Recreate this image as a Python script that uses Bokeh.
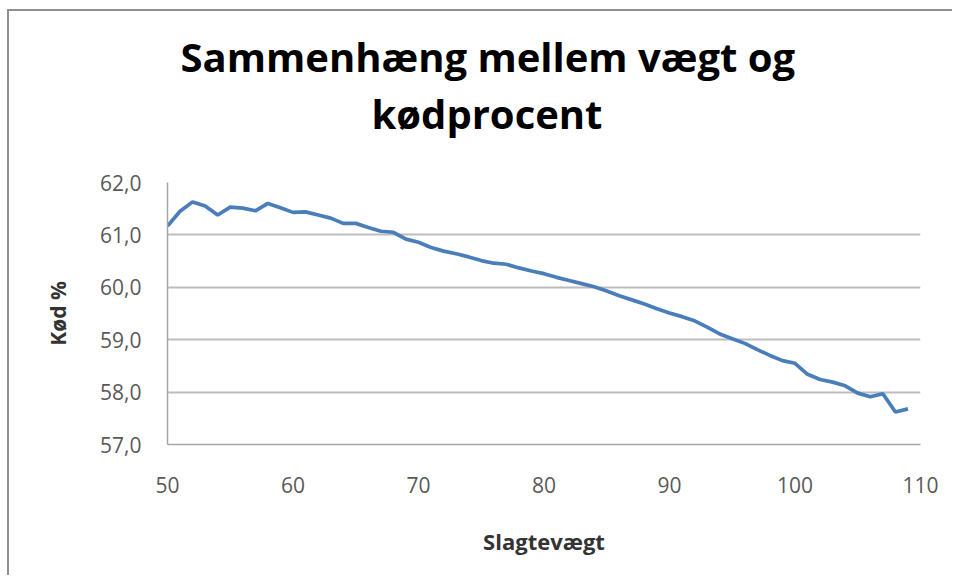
from bokeh.plotting import figure
from bokeh.models import Title, FixedTicker, ColumnDataSource
from bokeh.embed import file_html
from bokeh.resources import INLINE

# ---- data ----
weights = list(range(50, 110))
meat_pct = [61.17, 61.45, 61.63, 61.55, 61.38, 61.53, 61.51, 61.46, 61.60, 61.52,
            61.43, 61.44, 61.38, 61.32, 61.22, 61.22, 61.14, 61.07, 61.05, 60.92,
            60.86, 60.76, 60.69, 60.64, 60.58, 60.51, 60.46, 60.44, 60.37, 60.31,
            60.26, 60.19, 60.13, 60.07, 60.01, 59.93, 59.84, 59.76, 59.68, 59.59,
            59.51, 59.44, 59.36, 59.24, 59.11, 59.02, 58.93, 58.81, 58.70, 58.60,
            58.55, 58.34, 58.24, 58.19, 58.12, 57.98, 57.91, 57.97, 57.62, 57.68]
x_ticks = [50, 60, 70, 80, 90, 100, 110]
y_ticks = [57, 58, 59, 60, 61, 62]
y_tick_labels = ["57,0", "58,0", "59,0", "60,0", "61,0", "62,0"]
title_lines = ["Sammenhæng mellem vægt og", "kødprocent"]
x_title = "Slagtevægt"
y_title = "Kød %"

FONT = "Open Sans"
W, H = 945, 566

p = figure(width=W, height=H, output_backend="svg", toolbar_location=None,
           x_range=(50, 110), y_range=(57, 62), title=None,
           min_border_left=158, min_border_right=34,
           min_border_top=171, min_border_bottom=133)
p.styles = {"border-left": "2px solid #8e8e8e", "border-top": "2px solid #8e8e8e",
            "margin-left": "7px", "margin-top": "9px"}
p.outline_line_color = None
p.background_fill_color = "white"
p.border_fill_color = "white"

src = ColumnDataSource(dict(x=weights, y=meat_pct))
p.line("x", "y", source=src, line_color="#4a7ebb", line_width=3.7)

# axes
p.xaxis.ticker = FixedTicker(ticks=x_ticks)
p.yaxis.ticker = FixedTicker(ticks=y_ticks)
p.yaxis.major_label_overrides = {t: l for t, l in zip(y_ticks, y_tick_labels)}
for ax in (p.xaxis[0], p.yaxis[0]):
    ax.major_tick_line_color = None
    ax.minor_tick_line_color = None
    ax.axis_line_color = "#a6a6a6"
    ax.axis_line_width = 1.5
    ax.major_label_text_font = FONT
    ax.major_label_text_font_size = "21px"
    ax.major_label_text_color = "#595959"
    ax.axis_label_text_font = FONT
    ax.axis_label_text_font_style = "bold"
    ax.axis_label_text_color = "#333333"
p.xaxis.axis_label_text_font_size = "22px"
p.yaxis.axis_label_text_font_size = "21px"
p.xaxis.major_label_standoff = 26
p.xaxis.axis_label_standoff = 30
p.yaxis.major_label_standoff = 20
p.yaxis.axis_label_standoff = 25
p.xaxis.axis_label = x_title
p.yaxis.axis_label = y_title

p.xgrid.grid_line_color = None
p.ygrid.grid_line_color = "#bdbdbd"
p.ygrid.grid_line_width = 2

# title: spacer, then the two lines (stacked outward from the frame)
p.add_layout(Title(text=" ", text_font_size="1px", standoff=39), "above")
p.add_layout(Title(text=title_lines[1], align="left", offset=204, standoff=0,
                   vertical_align="bottom", text_font=FONT, text_font_size="40px",
                   text_font_style="bold", text_color="#000000"), "above")
p.add_layout(Title(text=title_lines[0], align="left", offset=13, standoff=0,
                   vertical_align="bottom", text_font=FONT, text_font_size="40px",
                   text_font_style="bold", text_color="#000000"), "above")

open("out.html", "w").write(file_html(p, INLINE))
